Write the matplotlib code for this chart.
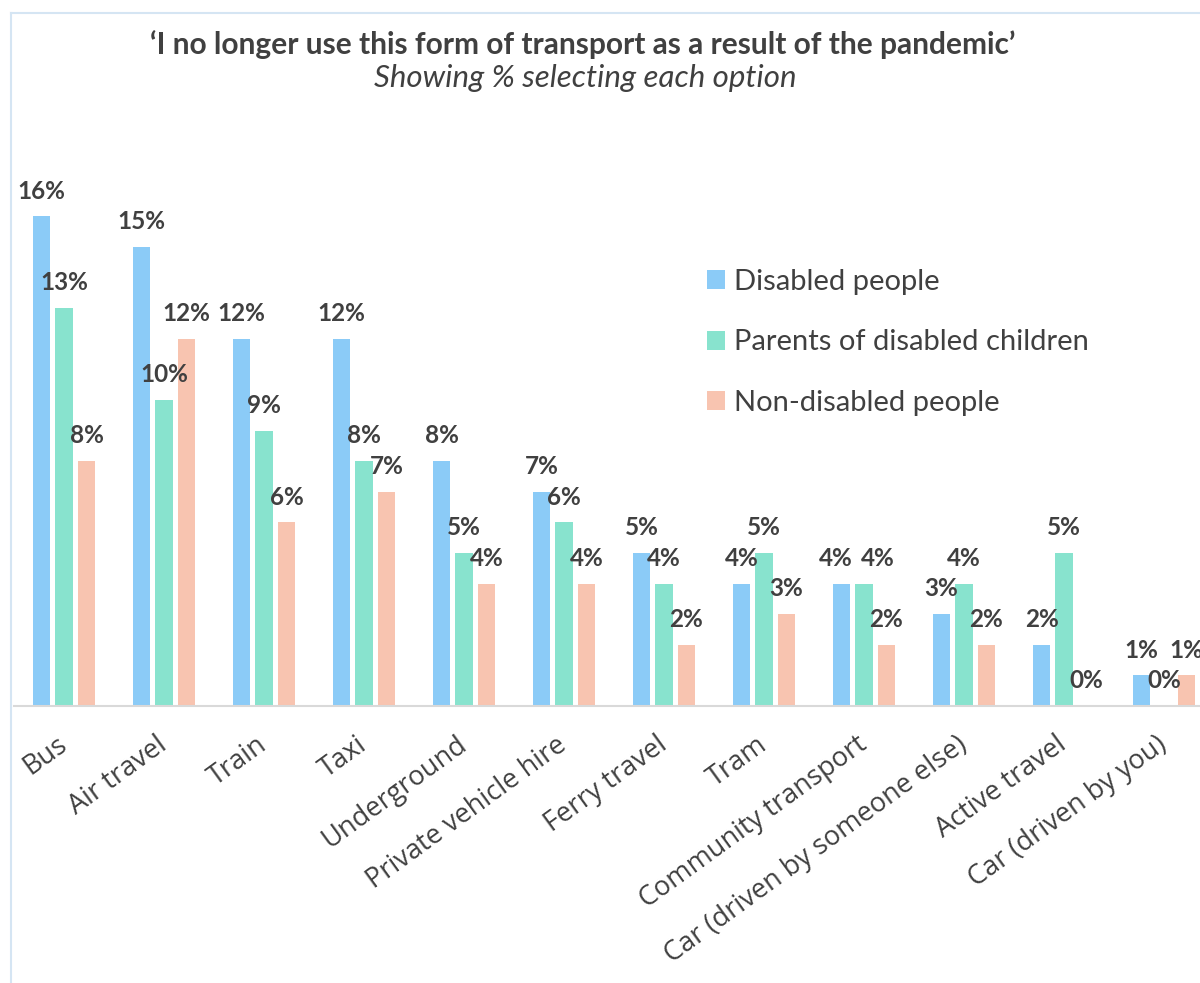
import matplotlib
matplotlib.use("Agg")
import matplotlib.pyplot as plt
import numpy as np
from matplotlib.lines import Line2D
from matplotlib.patches import Patch

# categories and values (% selecting each option)
categories = [
    "Bus", "Air travel", "Train", "Taxi", "Underground",
    "Private vehicle hire", "Ferry travel", "Tram", "Community transport",
    "Car (driven by someone else)", "Active travel", "Car (driven by you)",
]
series_names = ["Disabled people", "Parents of disabled children", "Non-disabled people"]
disabled = [16, 15, 12, 12, 8, 7, 5, 4, 4, 3, 2, 1]
parents = [13, 10, 9, 8, 5, 6, 4, 5, 4, 4, 5, 0]
non_disabled = [8, 12, 6, 7, 4, 4, 2, 3, 2, 2, 0, 1]

colors = ["#8BCBF7", "#88E3CE", "#F8C4B0"]
text_color = "#404040"

# labels pushed sideways where they would collide (px)
nudges = {(8, 0): -6, (8, 1): 14}

W, H = 1200, 983
fig = plt.figure(figsize=(W / 100, H / 100), dpi=100)

# axes placed so each category band is 100 px wide; right edge runs off the picture
ax = fig.add_axes([14 / W, (H - 706) / H, 1200 / W, 18 * 30.6 / H])
ax.set_xlim(-0.5, 11.5)
ax.set_ylim(0, 18)

x = np.arange(len(categories))
offsets = [-0.225, 0, 0.225]
for si, (vals, off, col) in enumerate(zip([disabled, parents, non_disabled], offsets, colors)):
    bars = ax.bar(x + off, vals, width=0.175, color=col, zorder=2)
    for ci, (b, v) in enumerate(zip(bars, vals)):
        dx = nudges.get((ci, si), 0) * 0.72
        ax.annotate(f"{v}%", (b.get_x() + b.get_width() / 2, v),
                    xytext=(dx, 10), textcoords="offset points",
                    ha="center", va="bottom", fontsize=17.5, fontweight="bold",
                    family="Lato", color=text_color)

for s in ["top", "right", "left"]:
    ax.spines[s].set_visible(False)
ax.spines["bottom"].set_color("#D9D9D9")
ax.spines["bottom"].set_linewidth(1.5)
ax.set_yticks([])
ax.set_xticks(x)
ax.set_xticklabels(categories, rotation=36, ha="right", va="center",
                   rotation_mode="anchor", fontsize=19.5, family="Open Sans",
                   color=text_color)
ax.tick_params(axis="x", length=0, pad=26)

# legend
handles = [Patch(facecolor=c, edgecolor="none") for c in colors]
fig.legend(handles, series_names, loc="upper left",
           bbox_to_anchor=(707 / W, 1 - 269 / H), bbox_transform=fig.transFigure,
           frameon=False, borderpad=0, borderaxespad=0,
           handlelength=0.62, handleheight=0.62,
           handletextpad=0.3, labelspacing=1.18,
           prop={"family": "Lato", "size": 21}, labelcolor=text_color)

# titles
fig.text(583 / W, 1 - 45 / H,
         "\u2018I no longer use this form of transport as a result of the pandemic\u2019",
         ha="center", va="center", fontsize=21.5, fontweight="bold",
         family="Lato", color=text_color)
fig.text(585 / W, 1 - 78 / H, "Showing % selecting each option",
         ha="center", va="center", fontsize=22.5, style="italic",
         family="Lato", color=text_color)

# chart frame (left and top edges visible)
fy = 1 - 13 / H
fx = 11 / W
fig.add_artist(Line2D([fx, fx], [0, fy], transform=fig.transFigure,
                      color="#D5E5F3", lw=1.5))
fig.add_artist(Line2D([fx, 1], [fy, fy], transform=fig.transFigure,
                      color="#D5E5F3", lw=1.5))

fig.savefig("out.png", dpi=100)
